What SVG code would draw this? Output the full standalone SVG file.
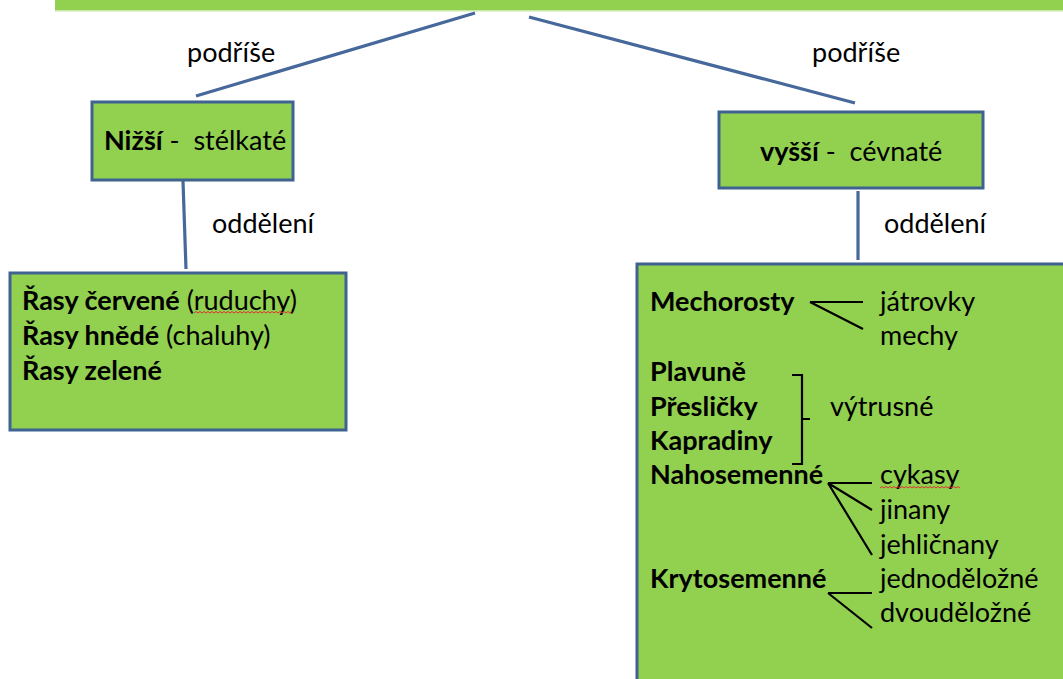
<svg xmlns="http://www.w3.org/2000/svg" width="1063" height="679" viewBox="0 0 1063 679">
<style>
.box{fill:#92d050;stroke:#3f6391;stroke-width:3}
.conn{stroke:#46689a;stroke-width:3.2;fill:none}
.blk{stroke:#000;stroke-width:2.2;fill:none}
text{font-family:Lato,"Open Sans","Liberation Sans",sans-serif;font-size:27px;fill:#000;white-space:pre}
.b{font-weight:bold}
.sq{stroke:#e03030;stroke-width:1;fill:none}
</style>
<rect width="1063" height="679" fill="#fff"/>
<g id="top">
<rect x="55" y="0" width="1008" height="10" fill="#92d050"/>
<rect x="55" y="10" width="1008" height="1.5" fill="#c8e8a8"/>
</g>
<g id="connectors">
<line class="conn" x1="475" y1="13" x2="196" y2="96"/>
<line class="conn" x1="529" y1="17" x2="855" y2="103"/>
<line class="conn" x1="183" y1="181" x2="186" y2="269"/>
<line class="conn" x1="858" y1="191" x2="858" y2="260"/>
</g>
<g id="labels">
<text x="187" y="62">podříše</text>
<text x="812" y="62">podříše</text>
<text x="212" y="233">oddělení</text>
<text x="884" y="233">oddělení</text>
</g>
<g id="nizsi">
<rect class="box" x="92" y="102" width="201" height="78"/>
<text x="104" y="150" xml:space="preserve"><tspan class="b">Nižší</tspan> -  stélkaté</text>
</g>
<g id="vyssi">
<rect class="box" x="719" y="112" width="264" height="76"/>
<text x="760" y="161" xml:space="preserve"><tspan class="b">vyšší</tspan> -  cévnaté</text>
</g>
<g id="rasy">
<rect class="box" x="10" y="273" width="336" height="157"/>
<text x="22" y="310"><tspan class="b">Řasy červené</tspan> (ruduchy)</text>
<text x="22" y="345"><tspan class="b">Řasy hnědé</tspan> (chaluhy)</text>
<text x="22" y="380" class="b">Řasy zelené</text>
<path class="sq" d="M194,313 l2,-1.5 l2,1.5 l2,-1.5 l2,1.5 l2,-1.5 l2,1.5 l2,-1.5 l2,1.5 l2,-1.5 l2,1.5 l2,-1.5 l2,1.5 l2,-1.5 l2,1.5 l2,-1.5 l2,1.5 l2,-1.5 l2,1.5 l2,-1.5 l2,1.5 l2,-1.5 l2,1.5 l2,-1.5 l2,1.5 l2,-1.5 l2,1.5 l2,-1.5 l2,1.5 l2,-1.5 l2,1.5 l2,-1.5 l2,1.5 l2,-1.5 l2,1.5 l2,-1.5 l2,1.5 l2,-1.5 l2,1.5 l2,-1.5 l2,1.5 l2,-1.5 l2,1.5 l2,-1.5 l2,1.5 l2,-1.5 l2,1.5 l2,-1.5 l2,1.5 l2,-1.5"/>
</g>
<g id="cevnate">
<rect class="box" x="637" y="264" width="440" height="430"/>
<text x="650" y="311" class="b">Mechorosty</text>
<text x="880" y="311">játrovky</text>
<text x="880" y="345">mechy</text>
<text x="650" y="381" class="b">Plavuně</text>
<text x="650" y="416" class="b">Přesličky</text>
<text x="650" y="450" class="b">Kapradiny</text>
<text x="830" y="416">výtrusné</text>
<text x="650" y="484" class="b">Nahosemenné</text>
<text x="880" y="484">cykasy</text>
<text x="880" y="519">jinany</text>
<text x="880" y="554">jehličnany</text>
<text x="650" y="588" class="b">Krytosemenné</text>
<text x="880" y="588">jednoděložné</text>
<text x="880" y="622">dvouděložné</text>
<path class="blk" d="M810,302 H863 M810,302 L863,329"/>
<path class="blk" d="M792,375 H802 V464 H792 M802,419 H810"/>
<path class="blk" d="M828,483 H872 M828,483 L872,510 M828,483 L872,555"/>
<path class="blk" d="M828,593 H872 M828,593 L872,628"/>
<path class="sq" d="M880,488 l2,-1.5 l2,1.5 l2,-1.5 l2,1.5 l2,-1.5 l2,1.5 l2,-1.5 l2,1.5 l2,-1.5 l2,1.5 l2,-1.5 l2,1.5 l2,-1.5 l2,1.5 l2,-1.5 l2,1.5 l2,-1.5 l2,1.5 l2,-1.5 l2,1.5 l2,-1.5 l2,1.5 l2,-1.5 l2,1.5 l2,-1.5 l2,1.5 l2,-1.5 l2,1.5 l2,-1.5 l2,1.5 l2,-1.5 l2,1.5 l2,-1.5 l2,1.5 l2,-1.5 l2,1.5 l2,-1.5 l2,1.5 l2,-1.5 l2,1.5"/>
</g>
</svg>
